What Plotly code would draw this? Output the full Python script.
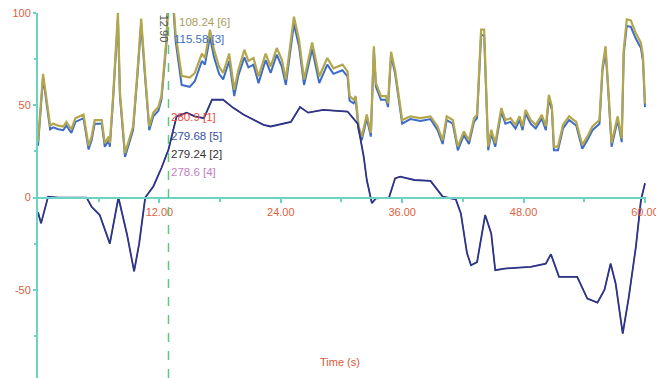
import plotly.graph_objects as go

# ---- data ----
t_upper = [0, 0.5, 1.0, 1.2, 1.5, 2.0, 2.5, 2.8, 3.3, 3.7,
           4.5, 5.0, 5.3, 5.6, 6.3, 6.6, 7.0, 7.1, 7.4, 7.7,
           7.9, 8.1, 8.6, 9.1, 9.4, 9.8, 10.2, 10.6, 11.0, 11.4,
           11.9, 12.2, 12.7, 12.9, 13.1, 13.4, 13.6, 14.2, 15.0, 15.5,
           16.2, 16.5, 17.0, 17.4, 17.9, 18.3, 18.9, 19.4, 19.8, 20.4,
           20.8, 21.3, 21.8, 22.5, 23.0, 23.6, 24.1, 24.5, 25.3, 25.8,
           26.3, 27.1, 27.8, 28.6, 29.2, 30.1, 30.6, 30.8, 31.2, 31.4,
           31.7, 32.0, 32.5, 32.9, 33.2, 33.4, 33.9, 34.4, 34.6, 34.9,
           35.3, 36.0, 36.8, 37.8, 38.8, 39.5, 40.0, 40.4, 41.0, 41.5,
           42.1, 42.6, 43.1, 43.4, 43.8, 44.1, 44.5, 44.8, 45.2, 45.8,
           46.2, 46.7, 47.2, 47.6, 47.9, 48.2, 48.7, 49.2, 49.8, 50.2,
           50.5, 50.8, 51.0, 51.4, 51.9, 52.5, 53.2, 53.8, 54.3, 54.8,
           55.5, 55.8, 56.1, 56.3, 56.7, 57.3, 57.5, 57.7, 57.9, 58.2,
           58.6, 59.1, 59.6, 59.8, 60.0]

series6 = [30, 67, 47, 39, 40, 39, 38.5, 41, 37, 43,
           45, 28, 33, 42, 42, 29.5, 33, 29.5, 53, 80,
           100, 57, 24, 33, 38.5, 66, 97, 66, 38.5, 46,
           49, 55, 86, 108.2, 106, 104, 89, 66, 65, 67.5,
           78, 75.6, 91, 80, 71, 67.5, 78, 58.4, 69, 80,
           74, 75.6, 65.6, 78, 71, 81, 74.7, 64, 98, 85.6,
           64, 84, 65.6, 75.6, 70, 72, 68.4, 55, 53, 55,
           38.5, 33, 45, 35, 82, 62, 55, 55, 51, 79,
           69, 42, 44, 43, 44, 38.5, 31, 44, 42, 27.6,
           35.8, 31, 43, 44.8, 91, 91, 27.6, 36.7, 29.5, 48.5,
           42, 43, 39.4, 44, 38.5, 47.5, 42, 39.4, 44.8, 38.5,
           55.7, 49.3, 27.6, 27.6, 39.4, 44, 41, 28.5, 33, 38.5,
           42, 71, 82, 65.6, 29.5, 44, 38.5, 32, 80, 96.5,
           96, 89, 83.8, 76.5, 51]

series3 = [28, 65, 45, 37, 38, 37, 36.5, 39, 35, 41,
           43, 26, 31, 40, 40, 27.5, 31, 27.5, 51, 78,
           97, 55, 22, 31, 36.5, 64, 94, 64, 36.5, 44,
           47, 53, 84, 115.6, 104, 101, 85, 61, 60, 63,
           74, 72, 87, 76, 67, 64, 74, 55, 66, 76,
           70.5, 72, 62, 74.5, 67.5, 77.5, 71, 61, 94, 82,
           61, 80.5, 62, 72, 67, 69, 65.5, 52.5, 51, 53,
           36.5, 31, 43, 33, 80, 60, 53, 53, 49, 77,
           67, 40, 42.5, 41.5, 42.5, 36.5, 29, 42, 40, 25.6,
           33.8, 29, 41, 43, 88, 88, 25.6, 34.7, 27.5, 46.5,
           40, 41, 37.4, 42, 36.5, 45.5, 40, 37.4, 42.8, 36.5,
           53.7, 47.3, 25.6, 25.6, 37.4, 42, 39, 26.5, 31, 36.5,
           40, 69, 79, 63.6, 27.5, 42, 36.5, 30, 78, 93,
           92.5, 86, 81, 74, 49]

t_lower = [0, 0.3, 1.0, 2.0, 3.0, 4.0, 4.8, 5.3, 6.1, 7.1,
           7.95, 8.8, 9.5, 10.0, 10.6, 11.4, 12.2, 12.9, 13.7, 14.7,
           15.5, 16.4, 17.2, 18.3, 19.3, 20.3, 22.3, 23.0, 25.0, 25.9,
           26.7, 28.2, 30.6, 31.6, 32.2, 32.5, 33.0, 33.4, 34.7, 35.3,
           35.8, 37.2, 38.8, 40.0, 41.3, 41.8, 42.4, 42.8, 43.4, 44.2,
           44.8, 45.2, 46.1, 47.5, 48.7, 50.2, 50.7, 51.5, 53.3, 54.3,
           55.3, 56.0, 56.6, 57.1, 57.8, 58.4, 59.1, 59.6, 60.0]

lower_series = [-8, -14, 0.5, 0, 0, 0, 0, -5, -9.5, -25,
                0, -20, -40, -25, 0, 6, 16, 26, 44, 46,
                44, 43, 53, 53, 48.6, 45, 39.4, 38.5, 41, 49,
                46, 47.5, 46.6, 40, 22, 9.5, -3, -0.5, 0, 10.4,
                11.3, 9.5, 9, 0.5, -1, -8.6, -30, -36.7, -35, -9.5,
                -19.5, -39.4, -38.5, -38, -37.6, -35.8, -30.7, -43, -43, -54.8,
                -57, -50, -35.8, -46.6, -73.8, -54, -26.7, -1.4, 7.7]

y_tick_vals = [-50, 0, 50, 100]
y_tick_text = ["-50", "0", "50", "100"]
x_tick_vals = [12, 24, 36, 48, 60]

cursor_t = 12.9
cursor_labels = ["108.24 [6]", "115.58 [3]", "280.9 [1]", "279.68 [5]", "279.24 [2]", "278.6 [4]"]
cursor_colors = ["#a89c5c", "#3d6cc4", "#ee4a3c", "#34509e", "#333333", "#c47cc4"]
cursor_x = [13.7, 13.2, 12.97, 12.97, 12.97, 12.97]
cursor_y = [95.3, 85.7, 43.8, 33.5, 23.6, 14.0]

y_min, y_max = -97.8, 100
x_min, x_max = 0, 60.1

fig = go.Figure()
fig.add_trace(go.Scatter(x=t_upper, y=series3, mode="lines",
                         line=dict(color="#3d6cc8", width=2), showlegend=False))
fig.add_trace(go.Scatter(x=t_upper, y=series6, mode="lines",
                         line=dict(color="#b3a64c", width=2.2), showlegend=False))
fig.add_trace(go.Scatter(x=t_lower, y=lower_series, mode="lines",
                         line=dict(color="#e04a40", width=1.2), showlegend=False))
fig.add_trace(go.Scatter(x=t_lower, y=lower_series, mode="lines",
                         line=dict(color="#28368c", width=1.8), showlegend=False))

fig.add_shape(type="line", xref="x", yref="paper", x0=cursor_t, x1=cursor_t, y0=0, y1=1,
              line=dict(color="#5cc878", width=1.5, dash="dash"))

for txt, col, xx, yy in zip(cursor_labels, cursor_colors, cursor_x, cursor_y):
    fig.add_annotation(x=xx, y=yy, xref="x", yref="y", text=txt, showarrow=False,
                       xanchor="left", yanchor="middle",
                       font=dict(family="Liberation Sans, Arial", size=11.5, color=col))

fig.add_annotation(x=12.45, y=91.5, xref="x", yref="y", text=f"{cursor_t:.2f}", showarrow=False,
                   textangle=90, font=dict(family="Liberation Sans, Arial", size=11, color="#555555"))

fig.add_annotation(x=0.497, y=-89.2, xref="paper", yref="y", text="Time (s)", showarrow=False,
                   font=dict(family="Liberation Sans, Arial", size=11, color="#d8583a"))

axis_col = "#6ad3c3"
tick_font = dict(family="Liberation Sans, Arial", size=11, color="#e0603c")

# page body has an 8px default margin; the figure is sized to fit the window
fig.update_layout(
    width=656, height=370,
    margin=dict(l=30, r=18, t=5, b=0, autoexpand=False),
    paper_bgcolor="white", plot_bgcolor="white",
    xaxis=dict(range=[x_min, x_max], anchor="free", position=(0 - y_min) / (y_max - y_min),
               automargin=False, ticklabeloverflow="allow",
               showgrid=False, zeroline=False, showline=True, linecolor=axis_col, linewidth=2,
               tickmode="array", tickvals=x_tick_vals, tickformat=".2f",
               ticks="outside", ticklen=4, tickcolor=axis_col, tickwidth=2,
               minor=dict(tickmode="array", tickvals=[6, 18, 30, 42, 54], ticks="outside",
                          ticklen=3, tickcolor=axis_col, tickwidth=2),
               tickfont=tick_font),
    yaxis=dict(range=[y_min, y_max], showgrid=False, zeroline=False, showline=True,
               automargin=False, ticklabeloverflow="allow",
               linecolor=axis_col, linewidth=2,
               tickmode="array", tickvals=y_tick_vals, ticktext=y_tick_text,
               ticks="outside", ticklen=3, tickcolor=axis_col, tickwidth=1.5,
               minor=dict(tickmode="array", tickvals=[-75, -25, 25, 75], ticks="outside",
                          ticklen=2, tickcolor=axis_col, tickwidth=1.5),
               tickfont=tick_font),
)

fig.write_html("out.html")
